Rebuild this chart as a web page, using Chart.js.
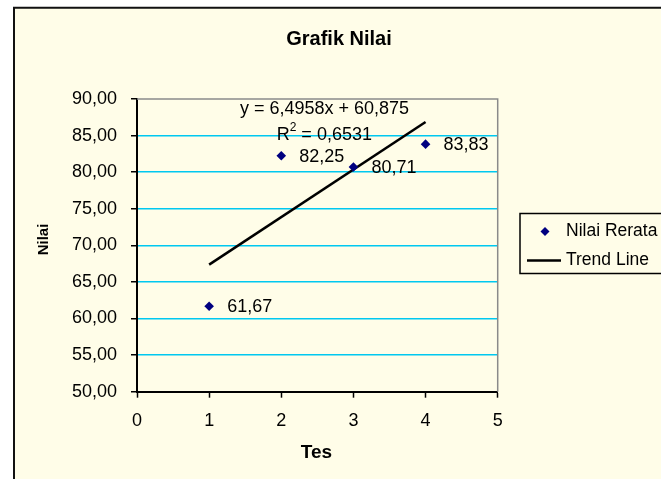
<!DOCTYPE html>
<html>
<head>
<meta charset="utf-8">
<script src="https://cdn.jsdelivr.net/npm/chart.js@4/dist/chart.umd.min.js"></script>
<style>
  html, body { margin: 0; padding: 0; background: #ffffff; }
  #wrap { width: 661px; height: 479px; }
</style>
</head>
<body>
<div id="wrap"><canvas id="c" width="661" height="479"></canvas></div>
<script>
// ---- Data ----
const tesValues = [1, 2, 3, 4];
const nilaiRerata = [61.67, 82.25, 80.71, 83.83];
const trendX = [1, 4];
const trendY = [67.37, 86.86];
const yTicks = [50, 55, 60, 65, 70, 75, 80, 85, 90];
const xTicks = [0, 1, 2, 3, 4, 5];
const chartTitle = 'Grafik Nilai';
const xTitle = 'Tes';
const yTitle = 'Nilai';
const equationText = 'y = 6,4958x + 60,875';
const r2Text = '0,6531';
const seriesNames = ['Nilai Rerata', 'Trend Line'];

const FONT = '"Liberation Sans", Arial, sans-serif';
const BG = '#FFFDE8';
const NAVY = '#000080';
const fmt = v => v.toFixed(2).replace('.', ',');

const decorPlugin = {
  id: 'decor',
  beforeDraw(chart) {
    const ctx = chart.ctx;
    ctx.save();
    ctx.fillStyle = '#ffffff';
    ctx.fillRect(0, 0, chart.width, chart.height);
    ctx.fillStyle = BG;
    ctx.fillRect(14, 7.7, chart.width, chart.height);
    ctx.strokeStyle = '#111111';
    ctx.lineWidth = 2;
    ctx.beginPath();
    ctx.moveTo(14, chart.height + 5);
    ctx.lineTo(14, 7.7);
    ctx.lineTo(chart.width + 5, 7.7);
    ctx.stroke();
    ctx.restore();
  },
  beforeDatasetsDraw(chart) {
    const ctx = chart.ctx, a = chart.chartArea;
    ctx.save();
    ctx.strokeStyle = '#8a8a8a';
    ctx.lineWidth = 1.5;
    ctx.beginPath();
    ctx.moveTo(a.left, a.top);
    ctx.lineTo(a.right, a.top);
    ctx.lineTo(a.right, a.bottom);
    ctx.stroke();
    ctx.restore();
  },
  afterDraw(chart) {
    const ctx = chart.ctx;
    ctx.save();
    ctx.fillStyle = '#000000';
    // title
    ctx.font = 'bold 20px ' + FONT;
    ctx.textAlign = 'center';
    ctx.textBaseline = 'middle';
    ctx.fillText(chartTitle, 339, 39);
    // x title
    ctx.font = 'bold 19px ' + FONT;
    ctx.fillText(xTitle, 316.5, 452.5);
    // y title
    ctx.save();
    ctx.translate(44, 239.5);
    ctx.rotate(-Math.PI / 2);
    ctx.font = 'bold 15px ' + FONT;
    ctx.fillText(yTitle, 0, 0);
    ctx.restore();

    // data labels
    ctx.font = '18px ' + FONT;
    ctx.textAlign = 'left';
    ctx.textBaseline = 'middle';
    const meta = chart.getDatasetMeta(0);
    meta.data.forEach((pt, i) => {
      ctx.fillText(fmt(nilaiRerata[i]), pt.x + 18, pt.y + 1);
    });

    // equation
    ctx.textAlign = 'center';
    ctx.fillText(equationText, 324.5, 109);
    ctx.textAlign = 'left';
    const rx = 276.7;
    ctx.fillText('R', rx, 135);
    const wR = ctx.measureText('R').width;
    ctx.font = '12px ' + FONT;
    ctx.fillText('2', rx + wR, 127.5);
    const w2 = ctx.measureText('2').width;
    ctx.font = '18px ' + FONT;
    ctx.fillText(' = ' + r2Text, rx + wR + w2, 135);

    // legend
    ctx.strokeStyle = '#000000';
    ctx.lineWidth = 1.5;
    ctx.strokeRect(520, 213.5, 200, 60);
    ctx.fillStyle = NAVY;
    ctx.beginPath();
    ctx.moveTo(545, 227); ctx.lineTo(549.5, 231.5); ctx.lineTo(545, 236); ctx.lineTo(540.5, 231.5);
    ctx.closePath(); ctx.fill();
    ctx.strokeStyle = '#000000';
    ctx.lineWidth = 2.5;
    ctx.beginPath();
    ctx.moveTo(527, 260.5); ctx.lineTo(561, 260.5);
    ctx.stroke();
    ctx.fillStyle = '#000000';
    ctx.font = '17.5px ' + FONT;
    ctx.textAlign = 'left';
    ctx.fillText(seriesNames[0], 566, 231.5);
    ctx.fillText(seriesNames[1], 566, 260.5);
    ctx.restore();
  }
};

new Chart(document.getElementById('c'), {
  type: 'scatter',
  data: {
    datasets: [
      {
        label: seriesNames[0],
        data: tesValues.map((x, i) => ({ x: x, y: nilaiRerata[i] })),
        pointStyle: 'rectRot',
        pointRadius: 4.8,
        pointHoverRadius: 4.8,
        backgroundColor: NAVY,
        borderColor: NAVY,
        borderWidth: 0,
        order: 0
      },
      {
        type: 'line',
        label: seriesNames[1],
        data: trendX.map((x, i) => ({ x: x, y: trendY[i] })),
        borderColor: '#000000',
        borderWidth: 2.5,
        pointRadius: 0,
        fill: false,
        showLine: true,
        order: 1
      }
    ]
  },
  options: {
    responsive: false,
    animation: false,
    events: [],
    layout: { padding: { left: 0, top: 99, right: 163.3, bottom: 0 } },
    plugins: { legend: { display: false }, title: { display: false }, tooltip: { enabled: false } },
    scales: {
      x: {
        type: 'linear', position: 'bottom', min: 0, max: 5,
        afterBuildTicks: s => { s.ticks = xTicks.map(v => ({ value: v })); },
        afterFit: s => { s.height = 87.3; },
        ticks: { color: '#000000', font: { family: FONT, size: 18 }, padding: 13, maxRotation: 0 },
        grid: { drawOnChartArea: false, drawTicks: true, tickLength: 6, tickColor: '#000000', tickWidth: 1.5 },
        border: { display: true, color: '#000000', width: 2 }
      },
      y: {
        type: 'linear', min: 50, max: 90,
        afterBuildTicks: s => { s.ticks = yTicks.map(v => ({ value: v })); },
        afterFit: s => { s.width = 137; },
        ticks: { color: '#000000', font: { family: FONT, size: 18 }, padding: 14, callback: v => fmt(v) },
        grid: {
          color: c => (c.tick && (c.tick.value === 90 || c.tick.value === 50)) ? 'rgba(0,0,0,0)' : '#00C8F0',
          lineWidth: 1.5, drawTicks: true, tickLength: 6, tickColor: '#000000', tickWidth: 1.5
        },
        border: { display: true, color: '#000000', width: 2 }
      }
    }
  },
  plugins: [decorPlugin]
});
</script>
</body>
</html>
